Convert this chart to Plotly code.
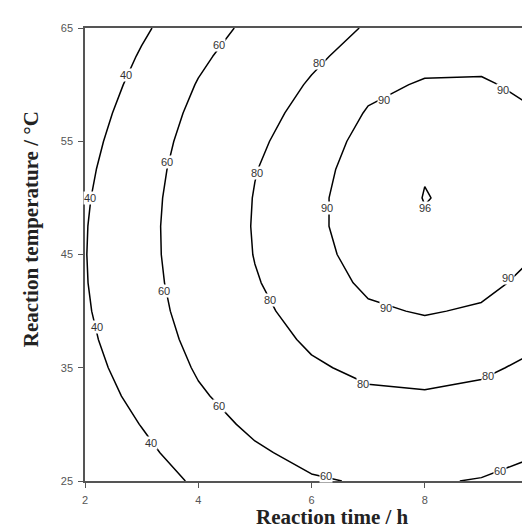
import plotly.graph_objects as go

# Reaction time (h) grid columns
time_h = [2, 3, 4, 5, 6, 7, 8, 9, 10]
# Reaction temperature (°C) grid rows
temp_c = [25, 27.5, 30, 32.5, 35, 37.5, 40, 42.5, 45, 47.5, 50, 52.5, 55, 57.5, 60, 62.5, 65]

# Yield (%) read from the response surface: one row per temperature, one value per time
yield_pct = [
    [19.5, 30.5, 42.8, 51.8, 58.5, 61.3, 61.3, 59.2, 53.9],
    [24.2, 35.9, 48.6, 57.8, 64.5, 67.6, 67.9, 65.9, 60.8],
    [28.3, 40.5, 53.6, 63.1, 69.8, 73.3, 73.8, 72.0, 67.1],
    [31.7, 44.6, 58.0, 67.7, 74.5, 78.2, 79.0, 77.3, 72.6],
    [34.5, 47.9, 61.7, 71.7, 78.5, 82.5, 83.5, 81.9, 77.4],
    [36.7, 50.7, 64.7, 74.9, 81.8, 86.1, 87.3, 85.9, 81.6],
    [38.3, 52.7, 67.1, 77.4, 84.4, 89.0, 90.5, 89.2, 85.1],
    [39.2, 54.1, 68.7, 79.2, 86.4, 91.3, 92.9, 91.8, 87.9],
    [39.5, 54.9, 69.6, 80.4, 87.6, 92.9, 94.7, 93.7, 89.9],
    [39.2, 55.0, 69.9, 80.8, 88.3, 93.8, 95.7, 94.9, 91.4],
    [38.3, 54.4, 69.5, 80.5, 88.2, 94.0, 96.1, 95.2, 92.1],
    [36.7, 53.2, 68.4, 79.6, 87.4, 93.5, 95.85, 95.3, 92.1],
    [34.5, 51.3, 66.6, 77.9, 86.0, 92.4, 94.8, 94.5, 91.5],
    [31.7, 48.8, 64.1, 75.6, 83.9, 90.6, 93.1, 93.0, 90.2],
    [28.3, 45.6, 60.9, 72.5, 81.2, 88.2, 90.7, 90.8, 88.1],
    [24.2, 41.7, 57.0, 68.7, 77.7, 85.0, 87.6, 88.0, 85.4],
    [19.5, 37.2, 52.5, 64.3, 73.6, 81.2, 83.8, 84.4, 82.0],
]

levels = [40, 60, 80, 90, 96]
x_ticks = [2, 4, 6, 8, 10]
y_ticks = [25, 35, 45, 55, 65]

x_title = "Reaction time / h"
y_title = "Reaction temperature / °C"

# Contour label placements as seen on the reference (horizontal text)
label_text = ["40", "40", "40", "40",
              "60", "60", "60", "60", "60", "60",
              "80", "80", "80", "80", "80",
              "90", "90", "90", "90", "90",
              "96"]
label_time = [2.72, 2.09, 2.21, 3.16,
              4.37, 3.44, 3.40, 4.37, 6.26, 9.33,
              6.14, 5.04, 5.27, 6.91, 9.12,
              7.28, 9.39, 6.27, 7.32, 9.47,
              8.0]
label_temp = [60.85, 50.0, 38.6, 28.4,
              63.5, 53.2, 41.8, 31.6, 25.4, 25.9,
              61.9, 52.2, 41.0, 33.6, 34.3,
              58.6, 59.5, 49.1, 40.3, 42.9,
              49.1]

fig = go.Figure()
for lv in levels:
    fig.add_trace(go.Contour(
        x=time_h, y=temp_c, z=yield_pct,
        autocontour=False,
        contours=dict(start=lv, end=lv, size=1, coloring="none", showlabels=False),
        line=dict(color="black", width=1.5, smoothing=0),
        showscale=False, hoverinfo="skip",
    ))

for t, xv, yv in zip(label_text, label_time, label_temp):
    fig.add_annotation(x=xv, y=yv, xref="x", yref="y", text=t, showarrow=False,
                       font=dict(family="Liberation Sans", size=11, color="#333333"),
                       bgcolor="white", borderpad=0)

title_font = dict(family="Liberation Serif", size=21, color="#222222", weight="bold")
# axis titles (placed as in the reference, slightly off the plot centre)
fig.add_annotation(xref="paper", yref="paper", x=0.547, y=-0.108,
                   xanchor="center", yanchor="bottom", text=x_title,
                   showarrow=False, font=title_font, borderpad=0)
fig.add_annotation(xref="paper", yref="paper", x=-0.119, y=0.556,
                   xanchor="center", yanchor="middle", text=y_title, textangle=-90,
                   showarrow=False, font=title_font, borderpad=0)

axis_common = dict(
    showgrid=False, zeroline=False, showline=True, linecolor="#555555", linewidth=1.5,
    ticks="outside", ticklen=5, tickcolor="#555555", tickwidth=1,
    tickfont=dict(family="Liberation Sans", size=11, color="#555555"),
    ticklabelstandoff=3,
    automargin=False,
)

fig.update_layout(
    width=530, height=528,
    margin=dict(l=77, r=0, t=20, b=55),
    paper_bgcolor="white", plot_bgcolor="white",
    showlegend=False,
    xaxis=dict(range=[2, 10], tickvals=x_ticks, mirror=True,
               ticklabeloverflow="allow", **axis_common),
    yaxis=dict(range=[25, 65], tickvals=y_ticks, **axis_common),
)

fig.write_html("out.html")
